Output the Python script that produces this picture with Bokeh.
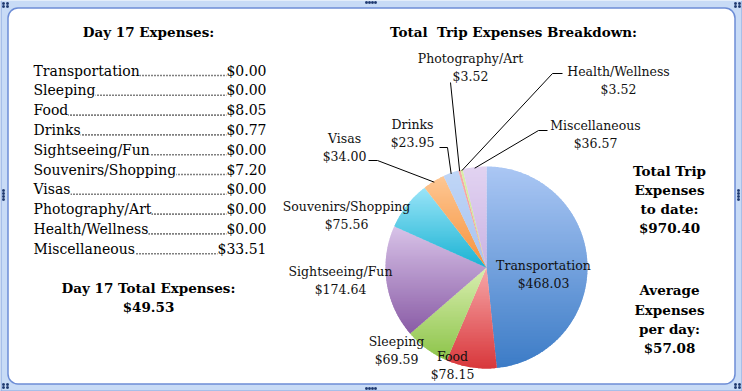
import math
from bokeh.plotting import figure
from bokeh.models import Range1d, ColumnDataSource
from bokeh.core.properties import value
from bokeh.embed import file_html
from bokeh.resources import INLINE

# ---------------- data ----------------
pie_categories = ["Transportation", "Food", "Sleeping", "Sightseeing/Fun",
                  "Souvenirs/Shopping", "Visas", "Drinks", "Photography/Art",
                  "Health/Wellness", "Miscellaneous"]
pie_totals = [468.03, 78.15, 69.59, 174.64, 75.56, 34.00, 23.95, 3.52, 3.52, 36.57]

day_categories = ["Transportation", "Sleeping", "Food", "Drinks", "Sightseeing/Fun",
                  "Souvenirs/Shopping", "Visas", "Photography/Art",
                  "Health/Wellness", "Miscellaneous"]
day_values = [0.00, 0.00, 8.05, 0.77, 0.00, 7.20, 0.00, 0.00, 0.00, 33.51]

day_number = 17
day_total = 49.53
trip_total = 970.40
avg_per_day = 57.08

# ---------------- style / layout ----------------
W, H = 742, 391
SERIF = value("DejaVu Serif")
grad_top = ["#abc7f4", "#f7a8a9", "#d9eeb0", "#d8c3e8", "#9ae4f8",
            "#fdc794", "#c0d6f7", "#f7a9a9", "#d9efaa", "#e2d3f1"]
grad_bot = ["#3b7bc6", "#d8363a", "#8cc449", "#895ba5", "#17b2d2",
            "#f6913a", "#a7c3ef", "#f29a9a", "#c9e48a", "#cab3e3"]
CX, CY, R = 486, 267, 101

# label positions (centre of the two-line label) for each pie slice
label_pos = [(543, 274), (452, 365), (396, 350), (340, 280), (346, 215),
             (344, 147), (412, 133), (470, 67), (618, 80), (595, 134)]
# leader line start points for the outside labels
leaders = {5: [(368, 160), (377, 160)],
           6: [(439, 147), (447, 147)],
           7: [(450, 82)],
           8: [(562, 73), (552, 73)],
           9: [(547, 130), (538, 130)]}

p = figure(width=W, height=H, x_range=Range1d(0, W), y_range=Range1d(H, 0),
           output_backend="svg", toolbar_location=None, min_border=0,
           x_axis_location=None, y_axis_location=None)
p.grid.visible = False
p.outline_line_color = None
p.background_fill_color = "#c8dbf6"
p.border_fill_color = "#c8dbf6"

# outer edge lines (left, right, bottom)
p.segment(x0=[0.5, 741.5, 0], y0=[0, 0, 390.5], x1=[0.5, 741.5, 742], y1=[391, 391, 390.5],
          line_color="#86a3dc", line_width=1)

# inner white panel with rounded corners
p.quad(left=[7.5], right=[734.5], top=[7.5], bottom=[383.5], fill_color="white",
       line_color="#6d8dd6", line_width=1.5, border_radius=10)

# selection handles
hx, hy = [], []
for (x0, y0) in [(2, 2), (734, 2), (2, 383), (734, 383)]:
    for dx in (0, 4):
        for dy in (0, 3):
            hx.append(x0 + dx + 1)
            hy.append(y0 + dy + 1)
for i in range(4):
    hx += [366 + 3 * i, 366 + 3 * i]
    hy += [2, 388]
    hx += [3, 738]
    hy += [190 + 3 * i, 190 + 3 * i]
p.scatter(hx, hy, marker="square", size=1.6, color="#203a70")

# ---------------- pie with vertical gradients ----------------
def hexrgb(h):
    return tuple(int(h[i:i + 2], 16) for i in (1, 3, 5))

def lerp(c0, c1, t):
    a, b = hexrgb(c0), hexrgb(c1)
    return "#%02x%02x%02x" % tuple(int(round(a[k] + (b[k] - a[k]) * t)) for k in range(3))

def clip_half(poly, y, keep_ge):
    out = []
    n = len(poly)
    for i in range(n):
        P, Q = poly[i], poly[(i + 1) % n]
        pin = P[1] >= y if keep_ge else P[1] <= y
        qin = Q[1] >= y if keep_ge else Q[1] <= y
        if pin:
            out.append(P)
        if pin != qin:
            t = (y - P[1]) / (Q[1] - P[1])
            out.append((P[0] + t * (Q[0] - P[0]), y))
    return out

total = sum(pie_totals)
xs_all, ys_all, cols = [], [], []
mid_angles = []
a0 = 0.0
for i, v in enumerate(pie_totals):
    span = v / total * 2 * math.pi
    a1 = a0 + span
    mid_angles.append((a0 + a1) / 2)
    n = max(2, int(math.degrees(span) / 0.7) + 1)
    poly = [(CX, CY)] + [(CX + R * math.sin(a0 + span * k / n), CY - R * math.cos(a0 + span * k / n))
                         for k in range(n + 1)]
    ymin = min(q[1] for q in poly)
    ymax = max(q[1] for q in poly)
    step = 1.5
    nb = max(1, int(math.ceil((ymax - ymin) / step)))
    for b in range(nb):
        y0 = ymin + b * step
        y1 = min(ymax, y0 + step + 0.7)
        c = clip_half(clip_half(poly, y0, True), y1, False)
        if len(c) < 3:
            continue
        t = (b + 0.5) / nb
        xs_all.append([q[0] for q in c])
        ys_all.append([q[1] for q in c])
        cols.append(lerp(grad_top[i], grad_bot[i], t))
    a0 = a1

p.patches(xs="xs", ys="ys", fill_color="c", line_color=None,
          source=ColumnDataSource(dict(xs=xs_all, ys=ys_all, c=cols)))

# leader lines
lx, ly = [], []
for i, pts in leaders.items():
    ang = mid_angles[i]
    ax, ay = CX + (R - 1) * math.sin(ang), CY - (R - 1) * math.cos(ang)
    lx.append([q[0] for q in pts] + [ax])
    ly.append([q[1] for q in pts] + [ay])
p.multi_line(lx, ly, line_color="#000000", line_width=1)

# pie labels
tx, ty, tt = [], [], []
for i, (name, v) in enumerate(zip(pie_categories, pie_totals)):
    x, y = label_pos[i]
    tx += [x, x]
    ty += [y - 9, y + 9]
    tt += [name, "$%.2f" % v]
p.text(tx, ty, text=tt, text_font=SERIF, text_font_size="12.5px", text_color="#111111",
       text_align="center", text_baseline="middle")

# ---------------- left list ----------------
row_y0, row_dy = 70, 19.8
name_x, val_x = 33, 266
rows_y = [row_y0 + k * row_dy for k in range(len(day_categories))]
p.segment(x0=[name_x + 4] * len(rows_y), y0=[y + 5 for y in rows_y],
          x1=[val_x - 30] * len(rows_y), y1=[y + 5 for y in rows_y],
          line_color="#000000", line_width=1.6, line_dash="1 2")
p.text([name_x] * len(rows_y), rows_y, text=day_categories, text_font=SERIF,
       text_font_size="14px", text_color="#000000", text_align="left",
       text_baseline="middle", background_fill_color="white")
p.text([val_x] * len(rows_y), rows_y, text=["$%.2f" % v for v in day_values],
       text_font=SERIF, text_font_size="14px", text_color="#000000",
       text_align="right", text_baseline="middle", background_fill_color="white")

# ---------------- bold headings ----------------
bold_x = [148, 513, 148, 148]
bold_y = [31, 31, 287, 306]
bold_t = ["Day %d Expenses:" % day_number, "Total\u00a0 Trip Expenses Breakdown:",
          "Day %d Total Expenses:" % day_number, "$%.2f" % day_total]
right_t = ["Total Trip", "Expenses", "to date:", "$%.2f" % trip_total,
           "Average", "Expenses", "per day:", "$%.2f" % avg_per_day]
right_y = [170, 189, 208, 227, 289, 309, 328, 347]
p.text(bold_x + [669] * len(right_t), bold_y + right_y, text=bold_t + right_t,
       text_font=SERIF, text_font_size="13.5px", text_font_style="bold",
       text_color="#000000", text_align="center", text_baseline="middle")

open("out.html", "w").write(file_html(p, INLINE))
